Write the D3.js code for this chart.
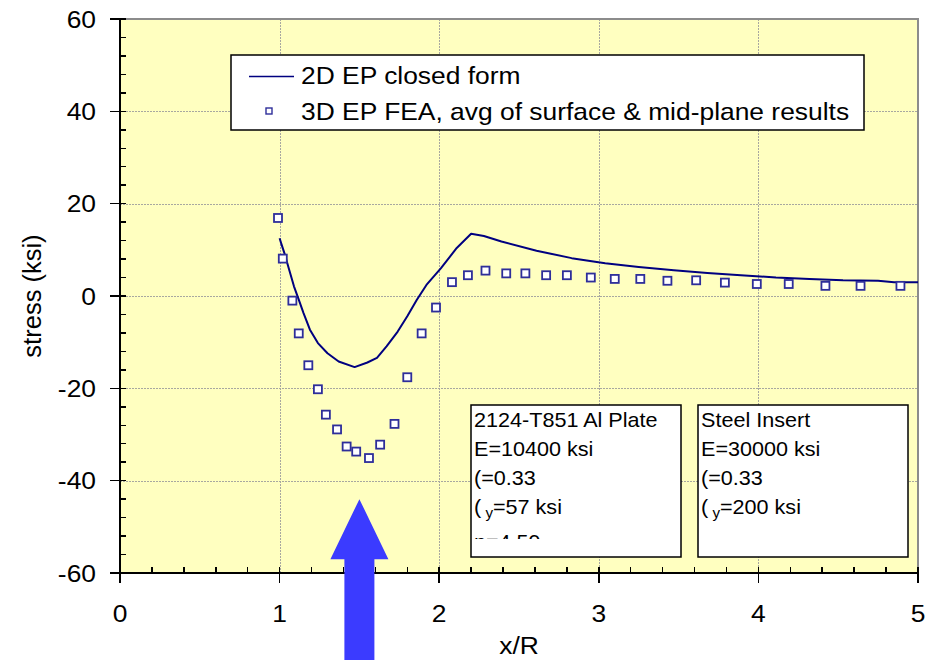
<!DOCTYPE html>
<html>
<head>
<meta charset="utf-8">
<script src="https://cdn.jsdelivr.net/npm/d3@7/dist/d3.min.js"></script>
<style>
  html, body { margin: 0; padding: 0; background: #ffffff; }
  svg { display: block; font-family: Arial, "Liberation Sans", sans-serif; }
</style>
</head>
<body>
<svg id="chart" width="936" height="660"></svg>
<script>
// 2D elastic-plastic closed-form stress along x/R
const curveX = [1.00, 1.01, 1.03, 1.06, 1.09, 1.12, 1.15, 1.19, 1.24, 1.30, 1.37, 1.47,
                1.55, 1.61, 1.67, 1.74, 1.80, 1.86, 1.92, 2.01, 2.11, 2.20, 2.28, 2.39,
                2.61, 2.83, 3.04, 3.25, 3.47, 3.68, 3.89, 4.11, 4.32, 4.53, 4.75, 4.85, 5.00];
const curveY = [12.5, 11.4, 9.3, 5.7, 2.1, -0.8, -3.7, -7.3, -10.2, -12.4, -14.2, -15.4,
                -14.4, -13.4, -10.9, -7.7, -4.4, -0.8, 2.4, 6.0, 10.4, 13.5, 13.0, 11.8,
                9.8, 8.2, 7.1, 6.3, 5.6, 5.0, 4.5, 4.0, 3.7, 3.4, 3.3, 3.0, 3.0];

// 3D elastic-plastic FEA, average of surface and mid-plane results
const feaX = [0.99, 1.02, 1.08, 1.12, 1.18, 1.24, 1.29, 1.36, 1.42, 1.48, 1.56, 1.63,
              1.72, 1.80, 1.89, 1.98, 2.08, 2.18, 2.29, 2.42, 2.54, 2.67, 2.80, 2.95,
              3.10, 3.26, 3.43, 3.61, 3.79, 3.99, 4.19, 4.42, 4.64, 4.89];
const feaY = [16.9, 8.1, -1.0, -8.1, -15.0, -20.2, -25.7, -28.9, -32.6, -33.7, -35.1, -32.2,
              -27.7, -17.6, -8.1, -2.5, 3.0, 4.5, 5.5, 4.9, 4.9, 4.5, 4.5, 4.0,
              3.7, 3.7, 3.3, 3.4, 2.9, 2.6, 2.6, 2.2, 2.2, 2.2];

// Axis ticks
const xTicks = [0, 1, 2, 3, 4, 5];
const yTicks = [-60, -40, -20, 0, 20, 40, 60];
const xMinorStep = 0.2;
const yMinorStep = 4;

// Legend entries and material property boxes
const legendLabels = ["2D EP closed form", "3D EP FEA, avg of surface & mid-plane results"];
const plateLines = ["2124-T851 Al Plate", "E=10400 ksi", "(=0.33", "(y=57 ksi", "n=4.59"];
const insertLines = ["Steel Insert", "E=30000 ksi", "(=0.33", "(y=200 ksi"];

// Location of the annotation arrow (x/R) and its head in stress units
const arrowAt = 1.5;
const arrowTip = -44;
const arrowHeadBase = -57;

const W = 936, H = 660;
const margin = { left: 120, top: 19, right: 18, bottom: 87 };
const svg = d3.select("#chart");

const x = d3.scaleLinear().domain([0, 5]).range([margin.left, W - margin.right]);
const y = d3.scaleLinear().domain([-60, 60]).range([H - margin.bottom, margin.top]);

const x0 = x(0), x1 = x(5), yTop = y(60), yBot = y(-60);

// Place a text at (px, py), widened horizontally by sx
function placeText(sel, px, py, sx) {
  sel.attr("transform", `translate(${px},${py}) scale(${sx},1)`);
  return sel;
}
const SX = 1.1;

// Plot area
svg.append("rect")
  .attr("x", x0).attr("y", yTop)
  .attr("width", x1 - x0).attr("height", yBot - yTop)
  .attr("fill", "#ffffc0");

// Gridlines
const grid = svg.append("g").attr("stroke", "#a8a8a0").attr("stroke-width", 1)
  .attr("stroke-dasharray", "2,1").attr("shape-rendering", "crispEdges");
grid.selectAll("line.gx").data(xTicks.filter(d => d > 0 && d < 5)).join("line")
  .attr("x1", d => Math.round(x(d)) + 0.5).attr("x2", d => Math.round(x(d)) + 0.5)
  .attr("y1", yTop).attr("y2", yBot);
grid.selectAll("line.gy").data(yTicks.filter(d => d > -60 && d < 60)).join("line")
  .attr("y1", d => Math.round(y(d)) + 0.5).attr("y2", d => Math.round(y(d)) + 0.5)
  .attr("x1", x0).attr("x2", x1);

// Top and right frame
svg.append("path")
  .attr("d", `M${x0},${yTop}H${x1}V${yBot}`)
  .attr("fill", "none").attr("stroke", "#8c8c8c").attr("stroke-width", 2);

// Closed-form curve
const line = d3.line().x(d => x(d[0])).y(d => y(d[1]));
svg.append("path")
  .datum(curveX.map((v, i) => [v, curveY[i]]))
  .attr("d", line)
  .attr("fill", "none").attr("stroke", "#000080").attr("stroke-width", 2)
  .attr("stroke-linejoin", "round");

// FEA squares
const sq = 8;
svg.append("g").selectAll("rect").data(feaX.map((v, i) => [v, feaY[i]])).join("rect")
  .attr("x", d => x(d[0]) - sq / 2).attr("y", d => y(d[1]) - sq / 2)
  .attr("width", sq).attr("height", sq)
  .attr("fill", "#ffffff").attr("stroke", "#2e2e9a").attr("stroke-width", 1.8);

// Axes
const minorX = d3.range(0, 5.0001, xMinorStep).filter(v => Math.abs(v - Math.round(v)) > 1e-6);
const minorY = d3.range(-60, 60.0001, yMinorStep).filter(v => v % 20 !== 0);

const axisG = svg.append("g").attr("stroke", "#000").attr("shape-rendering", "crispEdges");
axisG.selectAll("line.mx").data(minorX).join("line")
  .attr("x1", d => x(d)).attr("x2", d => x(d)).attr("y1", yBot).attr("y2", yBot - 6)
  .attr("stroke-width", 1.5);
axisG.selectAll("line.Mx").data(xTicks).join("line")
  .attr("x1", d => x(d)).attr("x2", d => x(d)).attr("y1", yBot - 6).attr("y2", yBot + 10)
  .attr("stroke-width", 1.5);
axisG.selectAll("line.my").data(minorY).join("line")
  .attr("y1", d => y(d)).attr("y2", d => y(d)).attr("x1", x0).attr("x2", x0 + 6)
  .attr("stroke-width", 1.5);
axisG.selectAll("line.My").data(yTicks).join("line")
  .attr("y1", d => y(d)).attr("y2", d => y(d)).attr("x1", x0 - 10).attr("x2", x0 + 6)
  .attr("stroke-width", 1.5);
axisG.append("line").attr("x1", x0).attr("x2", x0).attr("y1", yTop - 1).attr("y2", yBot + 1)
  .attr("stroke-width", 2);
axisG.append("line").attr("x1", x0 - 1).attr("x2", x1).attr("y1", yBot).attr("y2", yBot)
  .attr("stroke-width", 2);

// Tick labels
svg.append("g").selectAll("text").data(xTicks).join("text")
  .each(function (d) { placeText(d3.select(this), x(d), yBot + 49, SX); })
  .attr("text-anchor", "middle").attr("font-size", 24).attr("fill", "#000")
  .text(d => d);
svg.append("g").selectAll("text").data(yTicks).join("text")
  .each(function (d) { placeText(d3.select(this), x0 - 24, y(d) + 8.5, SX); })
  .attr("text-anchor", "end").attr("font-size", 24).attr("fill", "#000")
  .text(d => d);

// Axis titles
placeText(svg.append("text"), (x0 + x1) / 2, H - 6, SX)
  .attr("text-anchor", "middle").attr("font-size", 24).text("x/R");
svg.append("text")
  .attr("transform", `translate(${41},${y(0)}) rotate(-90)`)
  .attr("text-anchor", "middle").attr("font-size", 25.5).text("stress (ksi)");

// Legend
const lg = svg.append("g").attr("transform", "translate(231,55)");
lg.append("rect").attr("width", 633).attr("height", 75)
  .attr("fill", "#fff").attr("stroke", "#000").attr("stroke-width", 1.5);
lg.append("line").attr("x1", 18).attr("x2", 63).attr("y1", 21.5).attr("y2", 21.5)
  .attr("stroke", "#000080").attr("stroke-width", 1.6);
lg.append("rect").attr("x", 35).attr("y", 53).attr("width", 6).attr("height", 6)
  .attr("fill", "#fff").attr("stroke", "#2e2e9a").attr("stroke-width", 1.4);
lg.selectAll("text").data(legendLabels).join("text")
  .each(function (d, i) { placeText(d3.select(this), 70, 29 + i * 36, SX); })
  .attr("font-size", 24).attr("fill", "#000").text(d => d);

// Material property boxes; text that overflows the box is cut off
function propBox(lines, left, id) {
  const top = 405, w = 210, h = 152;
  const g = svg.append("g");
  g.append("rect").attr("x", left).attr("y", top).attr("width", w).attr("height", h)
    .attr("fill", "#fff").attr("stroke", "#000").attr("stroke-width", 1.5);
  svg.append("clipPath").attr("id", id).append("rect")
    .attr("x", left).attr("y", top).attr("width", w).attr("height", 134);
  const tg = g.append("g").attr("clip-path", `url(#${id})`);
  lines.forEach((s, i) => {
    const by = top + 22 + i * 29 + (i === 4 ? 6 : 0);
    const t = placeText(tg.append("text"), left + 3, by, 1.08)
      .attr("font-size", 20).attr("fill", "#000");
    if (s.startsWith("(y")) {
      t.append("tspan").text("(");
      t.append("tspan").attr("font-size", 14).attr("dy", 4).text(" y");
      t.append("tspan").attr("dy", -4).text(s.slice(2));
    } else {
      t.text(s);
    }
  });
}
propBox(plateLines, 471, "clipPlate");
propBox(insertLines, 698, "clipInsert");

// Annotation arrow pointing at the location of interest
const ax = x(arrowAt);
const headHalf = 29, shaftHalf = 15;
svg.append("path")
  .attr("d", `M${ax},${y(arrowTip)}L${ax + headHalf},${y(arrowHeadBase)}L${ax + shaftHalf},${y(arrowHeadBase)}` +
             `L${ax + shaftHalf},${H}L${ax - shaftHalf},${H}L${ax - shaftHalf},${y(arrowHeadBase)}` +
             `L${ax - headHalf},${y(arrowHeadBase)}Z`)
  .attr("fill", "#3b3bff");
</script>
</body>
</html>
